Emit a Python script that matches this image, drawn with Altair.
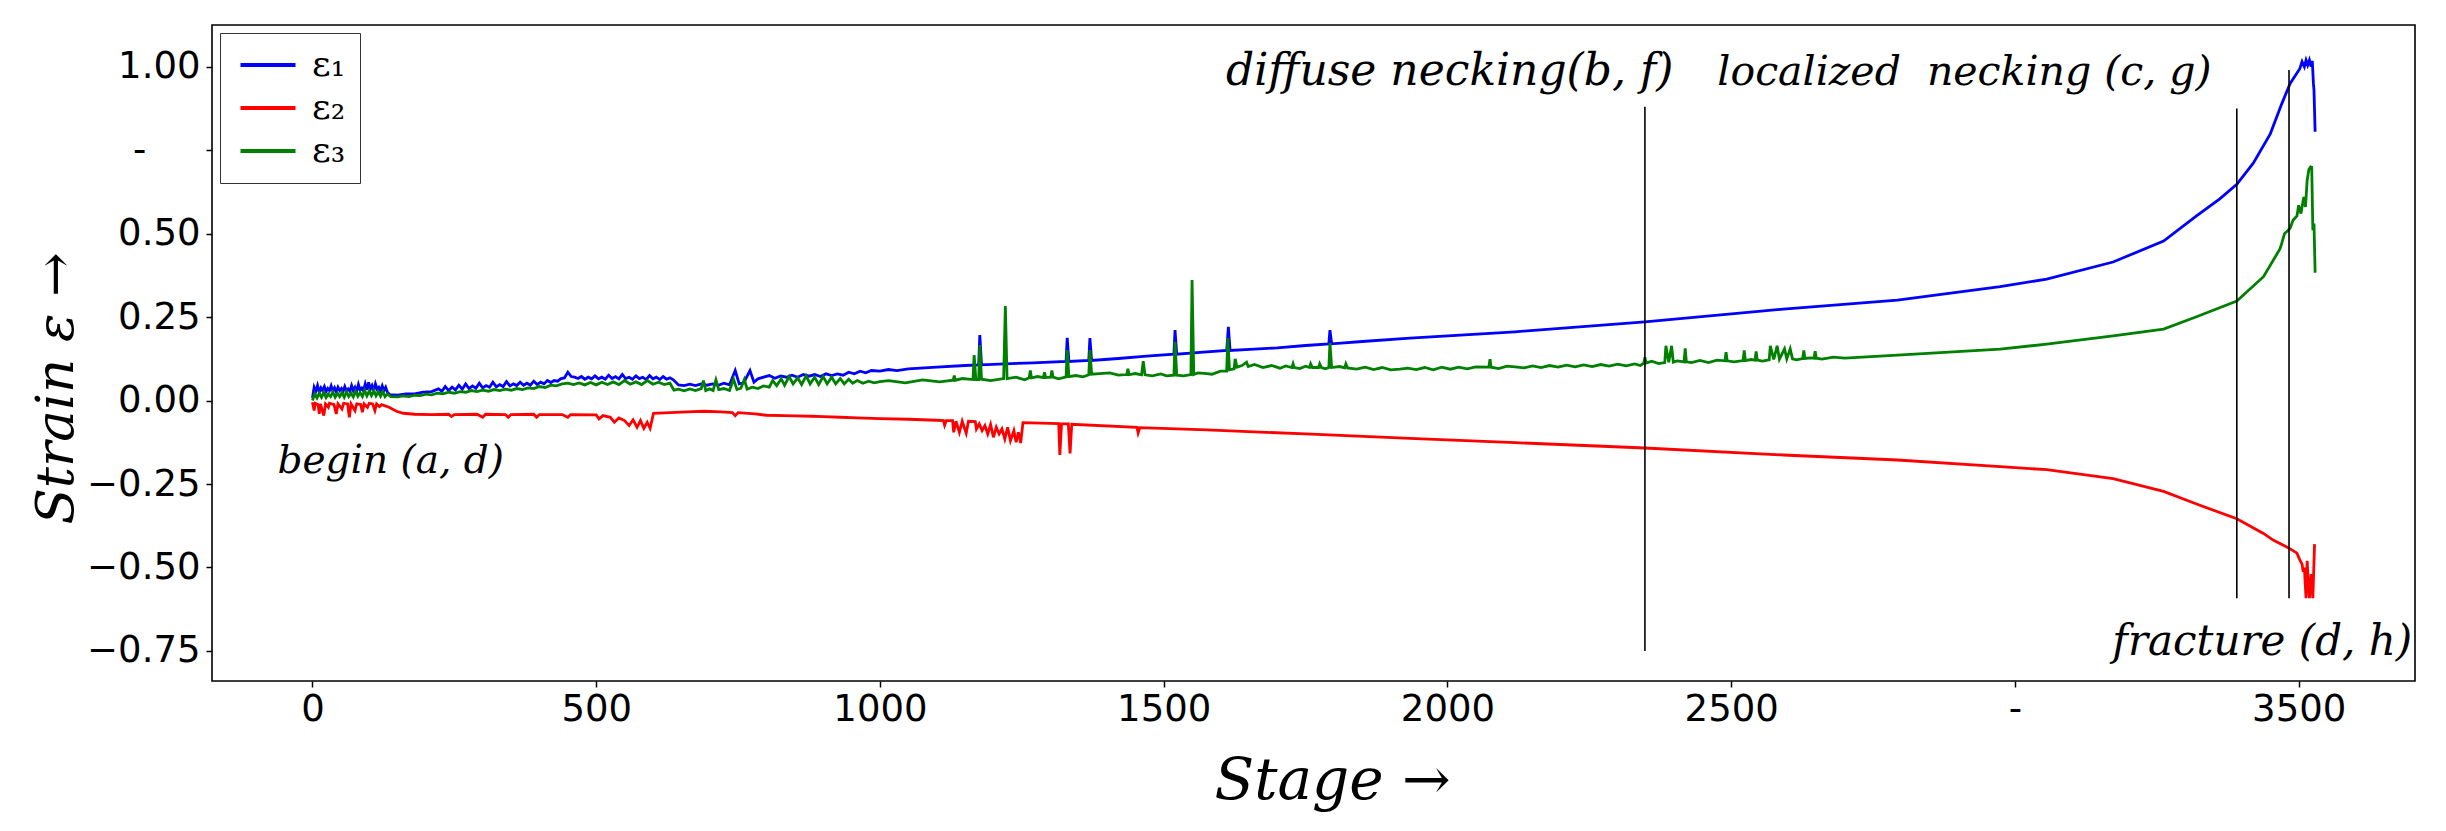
import altair as alt
import pandas as pd

# ---------------- data ----------------
series_names = ["ε₁", "ε₂", "ε₃"]
series_colors = ["#0000ff", "#ff0000", "#008000"]

# (stage, strain) pairs for eps1 (blue)
e1_points = [
    (0, .008), (3, .04), (6, .028), (9, .045), (12, .025), (15, .038), (18, .03), (21, .042),
    (24, .027), (27, .036), (30, .03), (33, .044), (36, .028), (39, .038), (42, .026), (45, .04),
    (48, .03), (51, .036), (54, .027), (57, .042), (60, .029), (63, .035), (66, .028), (69, .045),
    (72, .03), (75, .04), (78, .028), (81, .048), (84, .031), (87, .037), (90, .029), (93, .05),
    (96, .032), (99, .055), (102, .033), (105, .045), (108, .03), (111, .05), (114, .034),
    (117, .04), (120, .029), (123, .044), (126, .03), (129, .04), (132, .025), (136, .018),
    (150, .016), (165, .02), (180, .02), (195, .025), (210, .027),
    (222, .035), (228, .028), (234, .042), (240, .03), (246, .04), (252, .032), (258, .046),
    (264, .034), (270, .05), (276, .036), (282, .044), (288, .037), (294, .052), (300, .038),
    (306, .045), (312, .04), (318, .055), (324, .041), (330, .048), (336, .042), (342, .057),
    (348, .044), (354, .05), (360, .045), (366, .055), (372, .046), (378, .052), (384, .046),
    (390, .058), (396, .048), (402, .055), (408, .05), (414, .06), (420, .054), (426, .06),
    (432, .058), (438, .066), (444, .068), (450, .085), (456, .072), (462, .07), (468, .066),
    (474, .072), (480, .064), (486, .07), (492, .065), (498, .074), (504, .065), (510, .07),
    (516, .064), (522, .076), (528, .066), (534, .072), (540, .065), (546, .078), (552, .066),
    (558, .07), (564, .064), (570, .074), (576, .066), (582, .07), (588, .063), (594, .075),
    (600, .065), (606, .07), (612, .063), (618, .072), (624, .064), (630, .068), (636, .062),
    (645, .047), (655, .045), (665, .049), (675, .045), (685, .05), (695, .046), (705, .05),
    (715, .046), (725, .052), (735, .047), (745, .09), (752, .05), (760, .053), (771, .09),
    (778, .055), (785, .065), (795, .07), (805, .075), (815, .067), (825, .074), (835, .07),
    (845, .076), (855, .07), (865, .078), (875, .073), (885, .078), (895, .072), (905, .08),
    (915, .075), (925, .08), (935, .076), (945, .085), (955, .08), (965, .088), (975, .083),
    (985, .09), (1000, .088), (1015, .093), (1030, .09), (1050, .095), (1100, .1), (1150, .105),
    (1174, .107), (1176, .196), (1179, .107), (1220, .11), (1270, .113), (1328, .117),
    (1330, .188), (1333, .117), (1368, .12), (1370, .187), (1373, .12), (1420, .126),
    (1470, .133), (1518, .139), (1520, .211), (1523, .139), (1570, .145), (1611, .15),
    (1614, .221), (1617, .15), (1660, .154), (1700, .158), (1750, .165), (1791, .17),
    (1793, .211), (1796, .17), (1850, .177), (1934, .187), (2119, .206), (2348, .236),
    (2592, .274), (2793, .301), (2974, .341), (3056, .364), (3173, .415), (3262, .478),
    (3320, .553), (3361, .604), (3391, .648), (3420, .711), (3450, .799), (3470, .888),
    (3485, .95), (3502, .994), (3506, 1.015), (3510, 1.0), (3513, 1.02), (3516, 1.005),
    (3519, 1.02), (3522, 1.0), (3524, 1.018), (3526, .95), (3527, .93), (3529, .805),
]

# (stage, strain) pairs for eps2 (red)
e2_points = [
    (0, -.005), (3, -.03), (5, -.008), (10, -.012), (12, -.04), (14, -.01), (20, -.045),
    (23, -.01), (28, -.02), (30, -.008), (38, -.012), (42, -.04), (45, -.01), (52, -.025),
    (55, -.008), (62, -.01), (65, -.05), (68, -.01), (75, -.03), (78, -.01), (85, -.012),
    (88, -.035), (91, -.01), (97, -.02), (100, -.008), (106, -.01), (110, -.03), (113, -.01),
    (118, -.018), (122, -.012), (135, -.02), (148, -.032), (160, -.038), (180, -.041),
    (210, -.042), (240, -.041), (245, -.048), (250, -.042), (290, -.041), (300, -.05),
    (305, -.041), (340, -.042), (345, -.05), (350, -.042), (390, -.041), (395, -.05),
    (400, -.042), (440, -.042), (450, -.05), (455, -.042), (500, -.043), (505, -.055),
    (512, -.045), (525, -.05), (532, -.065), (540, -.052), (550, -.06), (558, -.075),
    (565, -.058), (572, -.08), (578, -.06), (584, -.083), (590, -.065), (595, -.083),
    (601, -.038), (630, -.036), (660, -.034), (690, -.032), (720, -.034), (740, -.036),
    (745, -.045), (750, -.036), (780, -.04), (800, -.044), (830, -.045), (850, -.046),
    (880, -.047), (900, -.048), (930, -.05), (960, -.052), (1000, -.054), (1050, -.056),
    (1100, -.059), (1112, -.06), (1114, -.074), (1117, -.06), (1128, -.06), (1130, -.095),
    (1134, -.062), (1140, -.095), (1145, -.062), (1152, -.098), (1156, -.062), (1168, -.063),
    (1170, -.085), (1175, -.07), (1180, -.09), (1185, -.075), (1190, -.1), (1195, -.072),
    (1200, -.11), (1205, -.08), (1210, -.1), (1215, -.085), (1220, -.115), (1225, -.08),
    (1230, -.12), (1236, -.09), (1240, -.125), (1244, -.095), (1248, -.127), (1252, -.066),
    (1315, -.069), (1317, -.163), (1320, -.07), (1332, -.07), (1335, -.158), (1338, -.071),
    (1453, -.08), (1455, -.097), (1458, -.081), (1576, -.088), (1750, -.1), (1934, -.113),
    (2119, -.126), (2348, -.142), (2592, -.163), (2793, -.178), (2974, -.198), (3056, -.207),
    (3173, -.234), (3262, -.272), (3320, -.31), (3391, -.354), (3438, -.398), (3455, -.418),
    (3483, -.442), (3497, -.457), (3502, -.477), (3506, -.49), (3508, -.513), (3510, -.5),
    (3513, -.592), (3515, -.48), (3517, -.55), (3519, -.592), (3522, -.52), (3525, -.592),
    (3528, -.43),
]

# (stage, strain) pairs for eps3 (green)
e3_points = [
    (0, 0.0), (4, .02), (8, .008), (12, .022), (16, .01), (20, .024), (24, .009), (28, .02),
    (32, .012), (36, .025), (40, .01), (44, .022), (48, .012), (52, .024), (56, .01), (60, .026),
    (64, .012), (68, .022), (72, .011), (76, .028), (80, .013), (84, .024), (88, .012), (92, .03),
    (96, .014), (100, .028), (104, .015), (108, .03), (112, .014), (116, .026), (120, .013),
    (124, .027), (128, .012), (132, .02), (138, .012), (150, .011), (160, .014), (170, .012),
    (180, .016), (190, .015), (200, .019), (210, .017), (220, .022), (230, .02), (240, .025),
    (250, .022), (260, .027), (270, .025), (280, .03), (290, .027), (300, .031), (310, .028),
    (320, .033), (330, .03), (340, .034), (350, .031), (360, .036), (370, .033), (380, .038),
    (390, .036), (400, .042), (410, .039), (420, .046), (430, .044), (440, .05), (450, .052),
    (460, .048), (470, .053), (480, .047), (490, .054), (500, .047), (510, .055), (520, .048),
    (530, .056), (540, .048), (550, .06), (560, .049), (570, .056), (580, .048), (590, .06),
    (600, .049), (610, .055), (620, .048), (630, .052), (637, .031), (645, .034), (655, .029),
    (665, .035), (675, .03), (685, .036), (689, .06), (693, .03), (700, .035), (706, .03),
    (711, .062), (716, .033), (725, .036), (735, .03), (742, .064), (748, .033), (755, .037),
    (761, .063), (766, .034), (775, .04), (785, .036), (795, .044), (805, .04), (811, .06),
    (818, .045), (826, .065), (832, .046), (840, .072), (847, .05), (855, .068), (862, .048),
    (870, .074), (877, .05), (885, .07), (892, .048), (900, .072), (907, .05), (915, .07),
    (922, .05), (930, .066), (937, .05), (945, .064), (952, .052), (960, .06), (970, .052),
    (980, .058), (990, .053), (1000, .057), (1015, .06), (1045, .053), (1075, .062),
    (1105, .056), (1129, .061), (1131, .075), (1133, .061), (1145, .066), (1164, .063),
    (1166, .136), (1169, .063), (1174, .063), (1176, .166), (1179, .064), (1195, .06),
    (1218, .066), (1221, .283), (1224, .066), (1240, .07), (1255, .062), (1263, .068),
    (1265, .09), (1267, .068), (1278, .072), (1288, .069), (1290, .085), (1292, .069),
    (1301, .07), (1303, .09), (1305, .07), (1315, .065), (1328, .071), (1330, .151),
    (1333, .072), (1345, .075), (1358, .071), (1368, .077), (1370, .151), (1373, .079),
    (1387, .081), (1405, .083), (1420, .076), (1435, .078), (1437, .095), (1439, .078),
    (1450, .081), (1461, .077), (1464, .118), (1467, .077), (1480, .074), (1495, .08),
    (1505, .074), (1518, .076), (1520, .176), (1523, .076), (1535, .074), (1548, .078),
    (1550, .361), (1553, .078), (1560, .083), (1576, .081), (1585, .079), (1600, .088),
    (1611, .088), (1613, .187), (1616, .092), (1624, .095), (1626, .125), (1629, .1),
    (1638, .105), (1646, .115), (1649, .102), (1660, .108), (1675, .099), (1690, .105),
    (1705, .097), (1715, .104), (1726, .099), (1728, .11), (1730, .099), (1740, .096),
    (1750, .103), (1757, .099), (1759, .11), (1762, .099), (1773, .099), (1775, .11),
    (1778, .099), (1785, .095), (1791, .099), (1793, .172), (1796, .099), (1810, .102),
    (1819, .098), (1821, .11), (1824, .098), (1840, .094), (1855, .1), (1870, .093),
    (1885, .099), (1900, .092), (1916, .094), (1930, .097), (1945, .093), (1960, .099),
    (1975, .092), (1990, .1), (2005, .094), (2020, .1), (2035, .095), (2050, .101),
    (2073, .1), (2075, .124), (2077, .1), (2090, .096), (2105, .103), (2119, .101),
    (2135, .098), (2150, .104), (2165, .099), (2180, .105), (2195, .1), (2210, .106),
    (2225, .101), (2240, .107), (2255, .102), (2270, .108), (2285, .103), (2300, .109),
    (2315, .104), (2330, .11), (2340, .105), (2346, .112), (2348, .13), (2350, .112),
    (2360, .118), (2372, .111), (2383, .114), (2385, .164), (2390, .115), (2395, .164),
    (2398, .115), (2405, .119), (2417, .116), (2419, .156), (2421, .116), (2430, .114),
    (2445, .12), (2460, .114), (2475, .121), (2489, .119), (2491, .145), (2493, .119),
    (2505, .116), (2521, .12), (2523, .15), (2525, .12), (2535, .123), (2542, .121),
    (2544, .147), (2546, .121), (2555, .118), (2567, .122), (2569, .164), (2575, .123),
    (2581, .164), (2585, .124), (2594, .155), (2598, .125), (2604, .155), (2608, .125),
    (2615, .122), (2626, .126), (2628, .15), (2630, .126), (2640, .128), (2646, .127),
    (2648, .148), (2650, .127), (2660, .124), (2680, .13), (2700, .127), (2793, .136),
    (2974, .154), (3056, .169), (3173, .194), (3262, .214), (3320, .251), (3391, .298),
    (3438, .371), (3467, .454), (3470, .47), (3475, .5), (3485, .516), (3490, .54),
    (3497, .553), (3500, .585), (3504, .56), (3509, .61), (3512, .58), (3515, .66),
    (3518, .692), (3521, .7), (3523, .699), (3525, .51), (3527, .53), (3529, .383),
]

# vertical marker lines: stage, bottom strain, top strain
marker_stage = [2348, 3391, 3483]
marker_low = [-0.75, -0.592, -0.592]
marker_high = [0.88, 0.875, 0.99]

# annotations
note_text = ["begin (a, d)", "diffuse necking(b, f)", "localized\u00a0 necking (c, g)", "fracture (d, h)"]
note_stage = [138, 2004, 2911, 3700]
note_strain = [-0.217, 0.945, 0.945, -0.762]

x_ticks = [0, 500, 1000, 1500, 2000, 2500, 3000, 3500]
y_ticks = [-0.75, -0.5, -0.25, 0.0, 0.25, 0.5, 0.75, 1.0]

# ---------------- build tables ----------------
rows = []
for name, pts in zip(series_names, [e1_points, e2_points, e3_points]):
    for s, v in pts:
        rows.append({"stage": s, "strain": v, "series": name})
df = pd.DataFrame(rows)

markers = pd.DataFrame({"stage": marker_stage, "low": marker_low, "high": marker_high})
notes = pd.DataFrame({"text": note_text, "stage": note_stage, "strain": note_strain})

x_scale = alt.Scale(domain=[-177, 3705], nice=False, zero=False)
y_scale = alt.Scale(domain=[-0.84, 1.125], nice=False, zero=False)

x_axis = alt.Axis(
    values=x_ticks,
    labelExpr="datum.value == 3000 ? '-' : format(datum.value, 'd')",
    grid=False, domain=False, tickSize=6, tickWidth=1.5, tickColor="black",
    labelFont="DejaVu Sans", labelFontSize=37, labelColor="black", labelPadding=4,
    title="Stage →", titleFont="DejaVu Serif", titleFontStyle="italic", titleFontWeight="normal",
    titleFontSize=58, titleColor="black", titleX=1120, titleY=117,
    titleAlign="center", titleBaseline="alphabetic",
)
y_axis = alt.Axis(
    values=y_ticks,
    labelExpr="datum.value == 0.75 ? '-\u2800\u2800' : format(datum.value, '.2f')",
    grid=False, domain=False, tickSize=6, tickWidth=1.5, tickColor="black",
    labelFont="DejaVu Sans", labelFontSize=37, labelColor="black", labelPadding=6,
    title="Strain ε →", titleFont="DejaVu Serif", titleFontStyle="italic", titleFontWeight="normal",
    titleFontSize=53, titleColor="black", titleAngle=270, titleX=-140, titleY=363,
    titleAlign="center", titleBaseline="alphabetic",
)

lines = alt.Chart(df).mark_line(strokeWidth=2.8, clip=True).encode(
    x=alt.X("stage:Q", scale=x_scale, axis=x_axis),
    y=alt.Y("strain:Q", scale=y_scale, axis=y_axis),
    color=alt.Color(
        "series:N",
        scale=alt.Scale(domain=series_names, range=series_colors),
        legend=alt.Legend(
            title=None, orient="none", legendX=8, legendY=8,
            symbolType="M-2,0L2,0", symbolSize=756, symbolStrokeWidth=4,
            symbolOffset=16,
            labelFont="DejaVu Serif", labelFontSize=36, labelColor="black",
            padding=14, rowPadding=7, labelOffset=26,
            strokeColor="#333333", fillColor="white", cornerRadius=0,
        ),
    ),
    order=alt.Order("stage:Q"),
)

rules = alt.Chart(markers).mark_rule(color="black", strokeWidth=1.6).encode(
    x=alt.X("stage:Q", scale=x_scale),
    y=alt.Y("low:Q", scale=y_scale),
    y2="high:Q",
)

note_sizes = [39, 44, 41, 42]
note_aligns = ["center", "center", "center", "right"]
note_layers = []
for i in range(len(note_text)):
    note_layers.append(
        alt.Chart(notes.iloc[[i]]).mark_text(
            font="DejaVu Serif", fontStyle="italic", fontSize=note_sizes[i],
            color="black", align=note_aligns[i], baseline="alphabetic",
        ).encode(
            x=alt.X("stage:Q", scale=x_scale),
            y=alt.Y("strain:Q", scale=y_scale),
            text="text:N",
        )
    )

chart = alt.layer(lines, rules, *note_layers).properties(
    width=2203, height=656,
    padding={"left": 204, "top": 17, "right": 20, "bottom": 140},
    autosize=alt.AutoSizeParams(type="none"),
    background="white",
).configure_view(stroke="black", strokeWidth=1.6)

chart.save("out.html", embed_options={"renderer": "svg", "actions": False})
